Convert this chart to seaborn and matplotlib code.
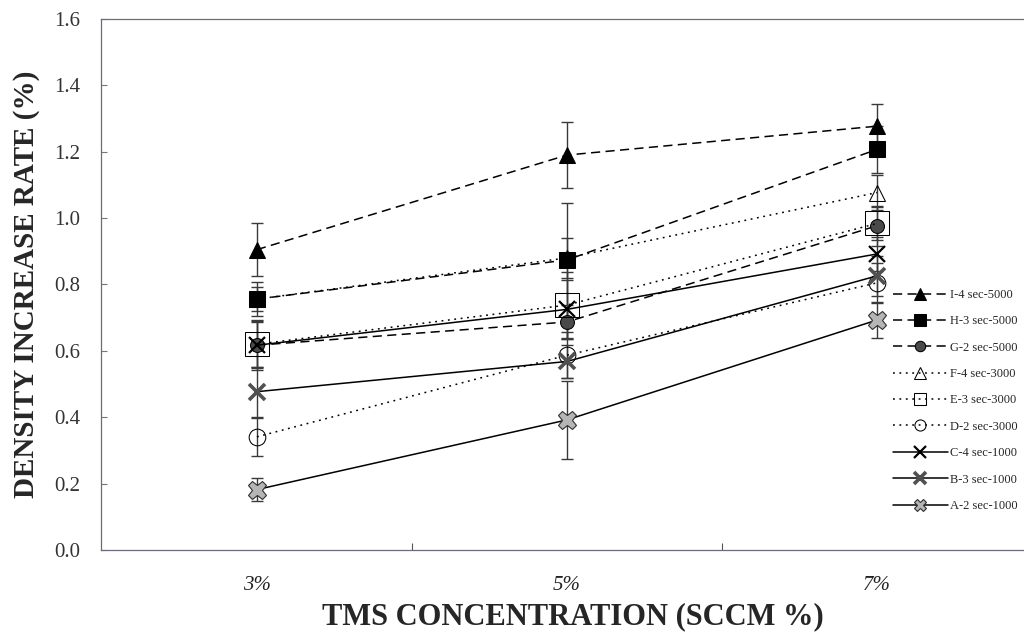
import numpy as np
import pandas as pd
import matplotlib
matplotlib.use("Agg")
import matplotlib.pyplot as plt
import seaborn as sns
from matplotlib.ticker import FixedLocator

# TMS concentration levels (x categories)
concentrations = ["3%", "5%", "7%"]

# Density increase rate (%) for each deposition condition
series_labels = ["I-4 sec-5000", "H-3 sec-5000", "G-2 sec-5000",
                 "F-4 sec-3000", "E-3 sec-3000", "D-2 sec-3000",
                 "C-4 sec-1000", "B-3 sec-1000", "A-2 sec-1000"]
I_vals = [0.905, 1.190, 1.277]
H_vals = [0.756, 0.874, 1.207]
G_vals = [0.617, 0.687, 0.977]
F_vals = [0.756, 0.880, 1.077]
E_vals = [0.620, 0.738, 0.984]
D_vals = [0.341, 0.587, 0.805]
C_vals = [0.617, 0.725, 0.892]
B_vals = [0.477, 0.568, 0.826]
A_vals = [0.182, 0.392, 0.693]

# Standard deviations (error bars)
I_err = [0.08, 0.10, 0.066]
H_err = [0.035, 0.172, 0.07]
G_err = [0.07, 0.05, 0.06]
F_err = [0.05, 0.06, 0.052]
E_err = [0.07, 0.10, 0.05]
D_err = [0.058, 0.07, 0.06]
C_err = [0.075, 0.09, 0.05]
B_err = [0.075, 0.05, 0.06]
A_err = [0.034, 0.117, 0.053]

values = [I_vals, H_vals, G_vals, F_vals, E_vals, D_vals, C_vals, B_vals, A_vals]
errors = [I_err, H_err, G_err, F_err, E_err, D_err, C_err, B_err, A_err]

dash_long = (0, (6, 3.5))
dot = (0, (1.2, 3))
styles = [
    dict(linestyle=dash_long, marker="^", markersize=12, markerfacecolor="black", markeredgecolor="black"),
    dict(linestyle=dash_long, marker="s", markersize=12, markerfacecolor="black", markeredgecolor="black"),
    dict(linestyle=dash_long, marker="o", markersize=10, markerfacecolor="#4a4a4a", markeredgecolor="black"),
    dict(linestyle=dot, marker="^", markersize=11, markerfacecolor="none", markeredgecolor="black"),
    dict(linestyle=dot, marker="s", markersize=17, markerfacecolor="none", markeredgecolor="black"),
    dict(linestyle=dot, marker="o", markersize=12, markerfacecolor="none", markeredgecolor="black"),
    dict(linestyle="-", marker="x", markersize=12, markeredgewidth=1.6, markeredgecolor="black"),
    dict(linestyle="-", marker="x", markersize=12, markeredgewidth=2.6, markeredgecolor="#505050"),
    dict(linestyle="-", marker="X", markersize=13, markerfacecolor="#b5b5b5", markeredgecolor="#303030",
         markeredgewidth=0.8),
]
# marker sizes used in the legend keys
legend_marker_sizes = [8, 8, 7.5, 8, 8, 8, 8.5, 8.5, 9]

sns.set_style("white")
plt.rcParams["font.family"] = ["Liberation Serif", "DejaVu Serif"]

fig = plt.figure(figsize=(10.24, 6.37), dpi=100)
ax = fig.add_axes([0.0986, 0.1366, 0.9014, 0.8336])

xpos = np.arange(len(concentrations))
frames = []
for lab, vals in zip(series_labels, values):
    frames.append(pd.DataFrame({"x": xpos, "rate": vals, "series": lab}))
df = pd.concat(frames, ignore_index=True)

# error bars underneath the markers
for lab, vals, errs in zip(series_labels, values, errors):
    ax.errorbar(xpos, vals, yerr=errs, fmt="none", ecolor="#3a3a3a",
                elinewidth=1.0, capsize=4, capthick=1.0, zorder=1)

for lab, st in zip(series_labels, styles):
    sub = df[df["series"] == lab]
    sns.lineplot(data=sub, x="x", y="rate", ax=ax, color="black", linewidth=1.1,
                 label=lab, sort=False, zorder=3, **st)

ax.set_xlim(-0.503, 2.474)
ax.set_ylim(0, 1.6)
ax.set_xticks(xpos)
ax.set_xticklabels(concentrations, fontstyle="italic")
ax.xaxis.set_minor_locator(FixedLocator([0.5, 1.5]))
ax.set_yticks(np.arange(0, 1.61, 0.2))
ax.set_yticklabels([f"{v:.1f}" for v in np.arange(0, 1.61, 0.2)])

ax.tick_params(axis="x", which="major", length=0, pad=19, labelsize=15, labelcolor="#222")
ax.tick_params(axis="x", which="minor", direction="in", length=5, width=0.8, color="#555", bottom=True)
ax.tick_params(axis="y", which="major", direction="in", length=4, width=0.8, color="#777",
               left=True, pad=15, labelsize=15, labelcolor="#333")

for side in ["left", "top", "bottom"]:
    ax.spines[side].set_visible(True)
    ax.spines[side].set_color("#6a6a80")
    ax.spines[side].set_linewidth(0.9)
ax.spines["right"].set_visible(False)

ax.set_xlabel("TMS CONCENTRATION (SCCM %)", fontsize=22, fontweight="bold")
ax.xaxis.set_label_coords(0.511, -0.098)
ax.set_ylabel("DENSITY INCREASE RATE (%)", fontsize=21, fontweight="bold", labelpad=10)

leg = ax.legend(loc="upper left", bbox_to_anchor=(0.858, 0.4915), frameon=False,
                fontsize=9, handlelength=4.4, handletextpad=0.15, labelspacing=1.15,
                borderaxespad=0, borderpad=0)
for handle, ms in zip(leg.legend_handles, legend_marker_sizes):
    handle.set_markersize(ms)

fig.savefig("out.png", dpi=100)
